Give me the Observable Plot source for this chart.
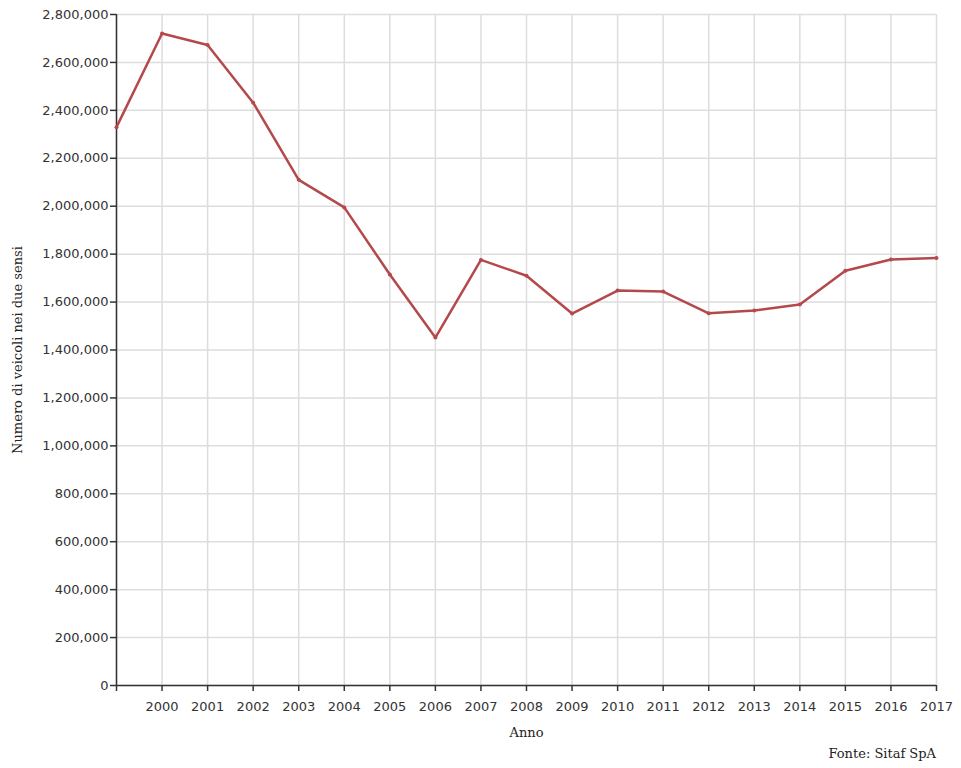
<!DOCTYPE html>
<html>
<head>
<meta charset="utf-8">
<script src="https://cdn.jsdelivr.net/npm/d3@7"></script>
<script src="https://cdn.jsdelivr.net/npm/@observablehq/plot@0.6"></script>
<style>
  html, body { margin: 0; padding: 0; background: #fff; }
  #chart svg { display: block; }
  #chart g[aria-label="y-axis label"] text,
  #chart g[aria-label="x-axis label"] text { font-family: "DejaVu Serif", serif; font-size: 13px; fill: #222; }
  #caption { width: 936px; text-align: right; font-family: "DejaVu Serif", serif; font-size: 13px; color: #222; margin-top: 1px; }
</style>
</head>
<body>
<div id="chart"></div>
<div id="caption">Fonte: Sitaf SpA</div>
<script>
const years = [1999, 2000, 2001, 2002, 2003, 2004, 2005, 2006, 2007, 2008, 2009, 2010, 2011, 2012, 2013, 2014, 2015, 2016, 2017];
const vehicles = [2330000, 2721000, 2673000, 2432000, 2110000, 1995000, 1715000, 1452000, 1776000, 1710000, 1552000, 1648000, 1644000, 1553000, 1565000, 1590000, 1731000, 1778000, 1784000];
const yTicks = [0, 200000, 400000, 600000, 800000, 1000000, 1200000, 1400000, 1600000, 1800000, 2000000, 2200000, 2400000, 2600000, 2800000];
const xTicks = years;

const data = years.map((y, i) => ({year: y, value: vehicles[i]}));
const lineColor = "#b5484b";

const chart = Plot.plot({
  width: 961,
  height: 745,
  marginLeft: 116,
  marginRight: 25,
  marginTop: 14,
  marginBottom: 60,
  style: { fontFamily: "DejaVu Sans, sans-serif", fontSize: "13px", color: "#333", background: "#fff" },
  x: { type: "linear", domain: [1999, 2017] },
  y: { domain: [0, 2800000] },
  marks: [
    Plot.gridX(xTicks, { stroke: "#ddd", strokeOpacity: 1, strokeWidth: 1.5 }),
    Plot.gridY(yTicks, { stroke: "#ddd", strokeOpacity: 1, strokeWidth: 1.5 }),
    Plot.ruleX([1999], { stroke: "#333", strokeWidth: 1.5 }),
    Plot.ruleY([0], { stroke: "#333", strokeWidth: 1.5 }),
    Plot.axisY(yTicks, {
      tickSize: 6, tickPadding: 2, stroke: "#333", strokeWidth: 1.5,
      tickFormat: d3.format(","),
      label: "Numero di veicoli nei due sensi", labelAnchor: "center", labelArrow: "none", labelOffset: 104
    }),
    Plot.axisX(xTicks, {
      tickSize: 6, tickPadding: 10, stroke: "#333", strokeWidth: 1.5,
      tickFormat: d => d === 1999 ? "" : String(d),
      label: "Anno", labelAnchor: "center", labelArrow: "none", labelOffset: 51
    }),
    Plot.line(data, { x: "year", y: "value", stroke: lineColor, strokeWidth: 2.5 }),
    Plot.dot(data, { x: "year", y: "value", fill: lineColor, r: 2 })
  ]
});
document.getElementById("chart").appendChild(chart);
</script>
</body>
</html>
